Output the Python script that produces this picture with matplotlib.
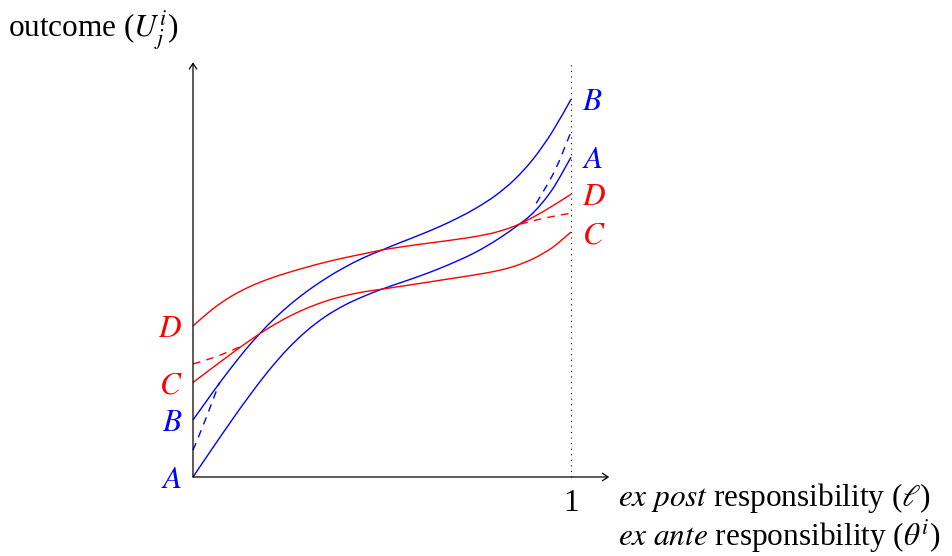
import matplotlib
matplotlib.use("Agg")
import matplotlib.pyplot as plt
from matplotlib.path import Path
from matplotlib.patches import PathPatch

plt.rcParams['font.family'] = ['Liberation Serif', 'DejaVu Serif']
plt.rcParams['mathtext.fontset'] = 'stix'

# ---- data ----
x_grid = [0.00, 0.05, 0.10, 0.15, 0.20, 0.25, 0.30, 0.35, 0.40, 0.45, 0.50,
          0.55, 0.60, 0.65, 0.70, 0.75, 0.80, 0.85, 0.90, 0.95, 1.00]

curve_A = [0.0000, 0.0738, 0.1463, 0.2160, 0.2810, 0.3383, 0.3860, 0.4243, 0.4540, 0.4773, 0.4970,
           0.5143, 0.5318, 0.5508, 0.5720, 0.5958, 0.6250, 0.6590, 0.6990, 0.7598, 0.8460]
curve_B = [0.1508, 0.2208, 0.2878, 0.3496, 0.4038, 0.4503, 0.4901, 0.5243, 0.5540, 0.5795, 0.6005,
           0.6208, 0.6405, 0.6615, 0.6850, 0.7120, 0.7445, 0.7863, 0.8413, 0.9125, 0.9990]
curve_C = [0.2500, 0.2878, 0.3250, 0.3610, 0.3940, 0.4225, 0.4460, 0.4648, 0.4790, 0.4895, 0.4970,
           0.5045, 0.5121, 0.5199, 0.5276, 0.5355, 0.5445, 0.5575, 0.5775, 0.6065, 0.6480]
curve_D = [0.3995, 0.4428, 0.4773, 0.5035, 0.5238, 0.5403, 0.5548, 0.5681, 0.5798, 0.5901, 0.6005,
           0.6085, 0.6156, 0.6222, 0.6290, 0.6367, 0.6472, 0.6635, 0.6875, 0.7165, 0.7480]

blue_dash_left_x = [0.000, 0.035, 0.070]
blue_dash_left_y = [0.071, 0.157, 0.250]
red_dash_left_x = [0.000, 0.066, 0.132]
red_dash_left_y = [0.299, 0.320, 0.348]
blue_dash_right_x = [0.908, 0.957, 1.000]
blue_dash_right_y = [0.724, 0.810, 0.913]
red_dash_right_x = [0.866, 0.930, 1.000]
red_dash_right_y = [0.669, 0.685, 0.698]

curve_names = ['A', 'B', 'C', 'D']
curve_colors = ['#0000ff', '#0000ff', '#ff0000', '#ff0000']

BLUE = '#0000ff'
RED = '#ff0000'


def smooth_path(xs, ys):
    """Smooth (Catmull-Rom style) Bezier path through the given points."""
    pts = list(zip(xs, ys))
    n = len(pts)
    verts = [pts[0]]
    codes = [Path.MOVETO]
    for i in range(n - 1):
        p0 = pts[i - 1] if i > 0 else pts[i]
        p1 = pts[i]
        p2 = pts[i + 1]
        p3 = pts[i + 2] if i + 2 < n else pts[i + 1]
        c1 = (p1[0] + (p2[0] - p0[0]) / 6.0, p1[1] + (p2[1] - p0[1]) / 6.0)
        c2 = (p2[0] - (p3[0] - p1[0]) / 6.0, p2[1] - (p3[1] - p1[1]) / 6.0)
        verts += [c1, c2, p2]
        codes += [Path.CURVE4] * 3
    return Path(verts, codes)


def draw_curve(ax, xs, ys, color, lw, ls='-'):
    patch = PathPatch(smooth_path(xs, ys), facecolor='none', edgecolor=color,
                      lw=lw, linestyle=ls, capstyle='butt')
    ax.add_patch(patch)


fig = plt.figure(figsize=(9.52, 5.56), dpi=100)
ax = fig.add_axes([0, 0, 1, 1])
ax.set_xlim(-193 / 378, 759 / 378)
ax.set_ylim(-79 / 378, 477 / 378)
ax.axis('off')

LW = 1.0
curves = [curve_A, curve_B, curve_C, curve_D]
for name, ys, col in zip(curve_names, curves, curve_colors):
    draw_curve(ax, x_grid, ys, col, LW)

dash = (0, (5.5, 4.5))
draw_curve(ax, blue_dash_left_x, blue_dash_left_y, BLUE, LW, dash)
draw_curve(ax, red_dash_left_x, red_dash_left_y, RED, LW, dash)
draw_curve(ax, blue_dash_right_x, blue_dash_right_y, BLUE, LW, dash)
draw_curve(ax, red_dash_right_x, red_dash_right_y, RED, LW, dash)

# axes with arrows
arrow_kw = dict(arrowstyle='->,head_length=0.45,head_width=0.3', color='black',
                lw=0.9, mutation_scale=9, shrinkA=0, shrinkB=0)
ax.annotate('', xy=(1.101, 0), xytext=(0, 0), arrowprops=arrow_kw)
ax.annotate('', xy=(0, 1.097), xytext=(0, 0), arrowprops=arrow_kw)

# dotted line at x = 1
ax.plot([1, 1], [0, 1.095], color='black', lw=0.8, linestyle=(0, (1, 4)))

FS = 22.5
off = 0.029
for name, ys, col in zip(curve_names, curves, curve_colors):
    ax.text(-0.028, ys[0] - off, f'${name}$', color=col, fontsize=FS,
            ha='right', va='baseline')
    ax.text(1.030, ys[-1] - off, f'${name}$', color=col, fontsize=FS,
            ha='left', va='baseline')

ax.text(1.0, -0.089, '1', fontsize=FS, ha='center', va='baseline')
ax.text(1.124, -0.077, r'$\it{ex\ post}$ responsibility ($\ell$)', fontsize=FS,
        ha='left', va='baseline')
ax.text(1.124, -0.182, r'$\it{ex\ ante}$ responsibility ($\theta^i$)', fontsize=FS,
        ha='left', va='baseline')
ax.text(-0.489, 1.164, r'outcome ($U^i_j$)', fontsize=FS, ha='left', va='baseline')

fig.savefig('out.png', dpi=100)
